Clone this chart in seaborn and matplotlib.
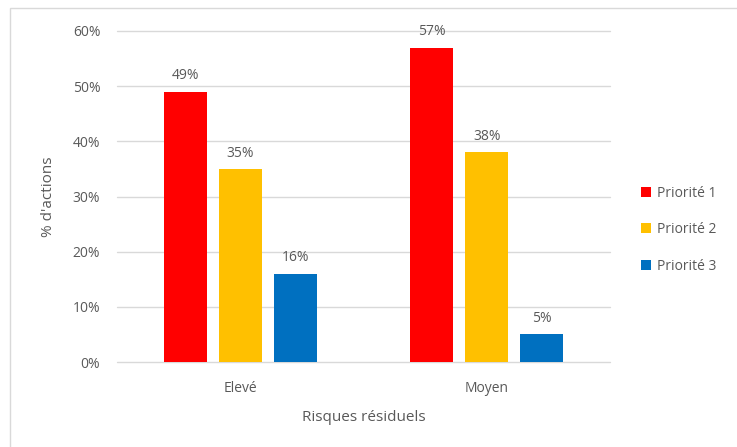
import pandas as pd
import matplotlib.pyplot as plt
import seaborn as sns
from matplotlib.patches import Rectangle
from matplotlib.ticker import PercentFormatter

# Data
categories = ['Elevé', 'Moyen']
series = ['Priorité 1', 'Priorité 2', 'Priorité 3']
values = {
    'Priorité 1': [49, 57],
    'Priorité 2': [35, 38],
    'Priorité 3': [16, 5],
}
colors = ['#FF0000', '#FFC000', '#0070C0']

rows = []
for s in series:
    for c, v in zip(categories, values[s]):
        rows.append({'Risque': c, 'Priorité': s, 'Valeur': v})
df = pd.DataFrame(rows)

sns.set_style('white')
plt.rcParams['font.family'] = ['Open Sans', 'DejaVu Sans']
txt = '#595959'

fig = plt.figure(figsize=(7.37, 4.47), dpi=100)
ax = fig.add_axes([117 / 737, 1 - 362 / 447, 493 / 737, 331 / 447])

sns.barplot(data=df, x='Risque', y='Valeur', hue='Priorité', palette=colors,
            width=0.67, gap=0.22, saturation=1, linewidth=0, ax=ax, legend=True)

ax.set_ylim(0, 60)
ax.set_yticks(range(0, 61, 10))
ax.yaxis.set_major_formatter(PercentFormatter(decimals=0))
ax.grid(axis='y', color='#D9D9D9', linewidth=1)
for gl in ax.get_ygridlines():
    gl.set_clip_on(False)
ax.set_axisbelow(True)
for sp in ax.spines.values():
    sp.set_visible(False)
ax.tick_params(axis='both', length=0, colors=txt, labelsize=10)
ax.tick_params(axis='x', pad=14)
ax.tick_params(axis='y', pad=12)

for cont in ax.containers:
    ax.bar_label(cont, labels=[f'{v:.0f}%' for v in cont.datavalues],
                 padding=6, color=txt, fontsize=10)

ax.set_xlabel('Risques résiduels', color=txt, fontsize=11, labelpad=10)
ax.set_ylabel("% d'actions", color=txt, fontsize=11, labelpad=12)

leg = ax.legend(loc='center left', bbox_to_anchor=(1.038, 0.40), frameon=False,
                fontsize=10, labelspacing=1.55, handlelength=0.7,
                handleheight=0.7, handletextpad=0.4)
for t in leg.get_texts():
    t.set_color(txt)

fig.patches.append(Rectangle((10 / 737, -0.1), 1.0, 1 - 8 / 447 + 0.1,
                             transform=fig.transFigure, fill=False,
                             edgecolor='#D9D9D9', linewidth=1))

fig.savefig('out.png', dpi=100)
